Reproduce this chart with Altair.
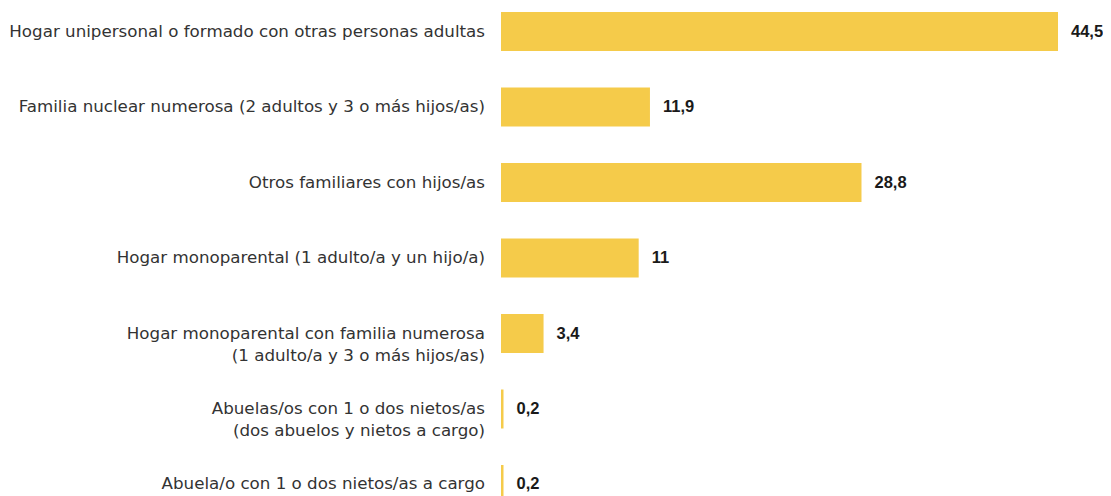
import altair as alt
import pandas as pd

categories = [
    ["Hogar unipersonal o formado con otras personas adultas"],
    ["Familia nuclear numerosa (2 adultos y 3 o más hijos/as)"],
    ["Otros familiares con hijos/as"],
    ["Hogar monoparental (1 adulto/a y un hijo/a)"],
    ["Hogar monoparental con familia numerosa", "(1 adulto/a y 3 o más hijos/as)"],
    ["Abuelas/os con 1 o dos nietos/as", "(dos abuelos y nietos a cargo)"],
    ["Abuela/o con 1 o dos nietos/as a cargo"],
]
values = [44.5, 11.9, 28.8, 11, 3.4, 0.2, 0.2]
value_labels = ["44,5", "11,9", "28,8", "11", "3,4", "0,2", "0,2"]

df = pd.DataFrame({
    "idx": list(range(len(values))),
    "cat": categories,
    "value": values,
    "lab": value_labels,
})

PX_PER_UNIT = 12.517
W = 600
H = 496

y = alt.Y("idx:Q", axis=None,
          scale=alt.Scale(domain=[-0.2467, 6.1924], reverse=True, nice=False, zero=False))
x = alt.X("value:Q", axis=None,
          scale=alt.Scale(domain=[0, W / PX_PER_UNIT], nice=False, zero=True))

base = alt.Chart(df)

bars = base.mark_bar(orient="horizontal", size=39, color="#F5CB4A").encode(x=x, y=y)

cat_text = base.mark_text(
    align="right", baseline="middle", font="DejaVu Sans", fontSize=16.7,
    color="#333333", lineHeight=22,
).encode(x=alt.value(-16), y=y, text="cat")

val_text = base.mark_text(
    align="left", baseline="middle", dx=13, font="Liberation Sans",
    fontWeight="bold", fontSize=16.5, color="#1a1a1a",
).encode(x=x, y=y, text="lab:N")

chart = (bars + cat_text + val_text).properties(
    width=W, height=H,
    autosize=alt.AutoSizeParams(type="none"),
    padding={"left": 493, "top": 0, "right": 2, "bottom": 0},
).configure_view(stroke=None)

chart.save("out.html", embed_options={"renderer": "svg", "actions": False})
